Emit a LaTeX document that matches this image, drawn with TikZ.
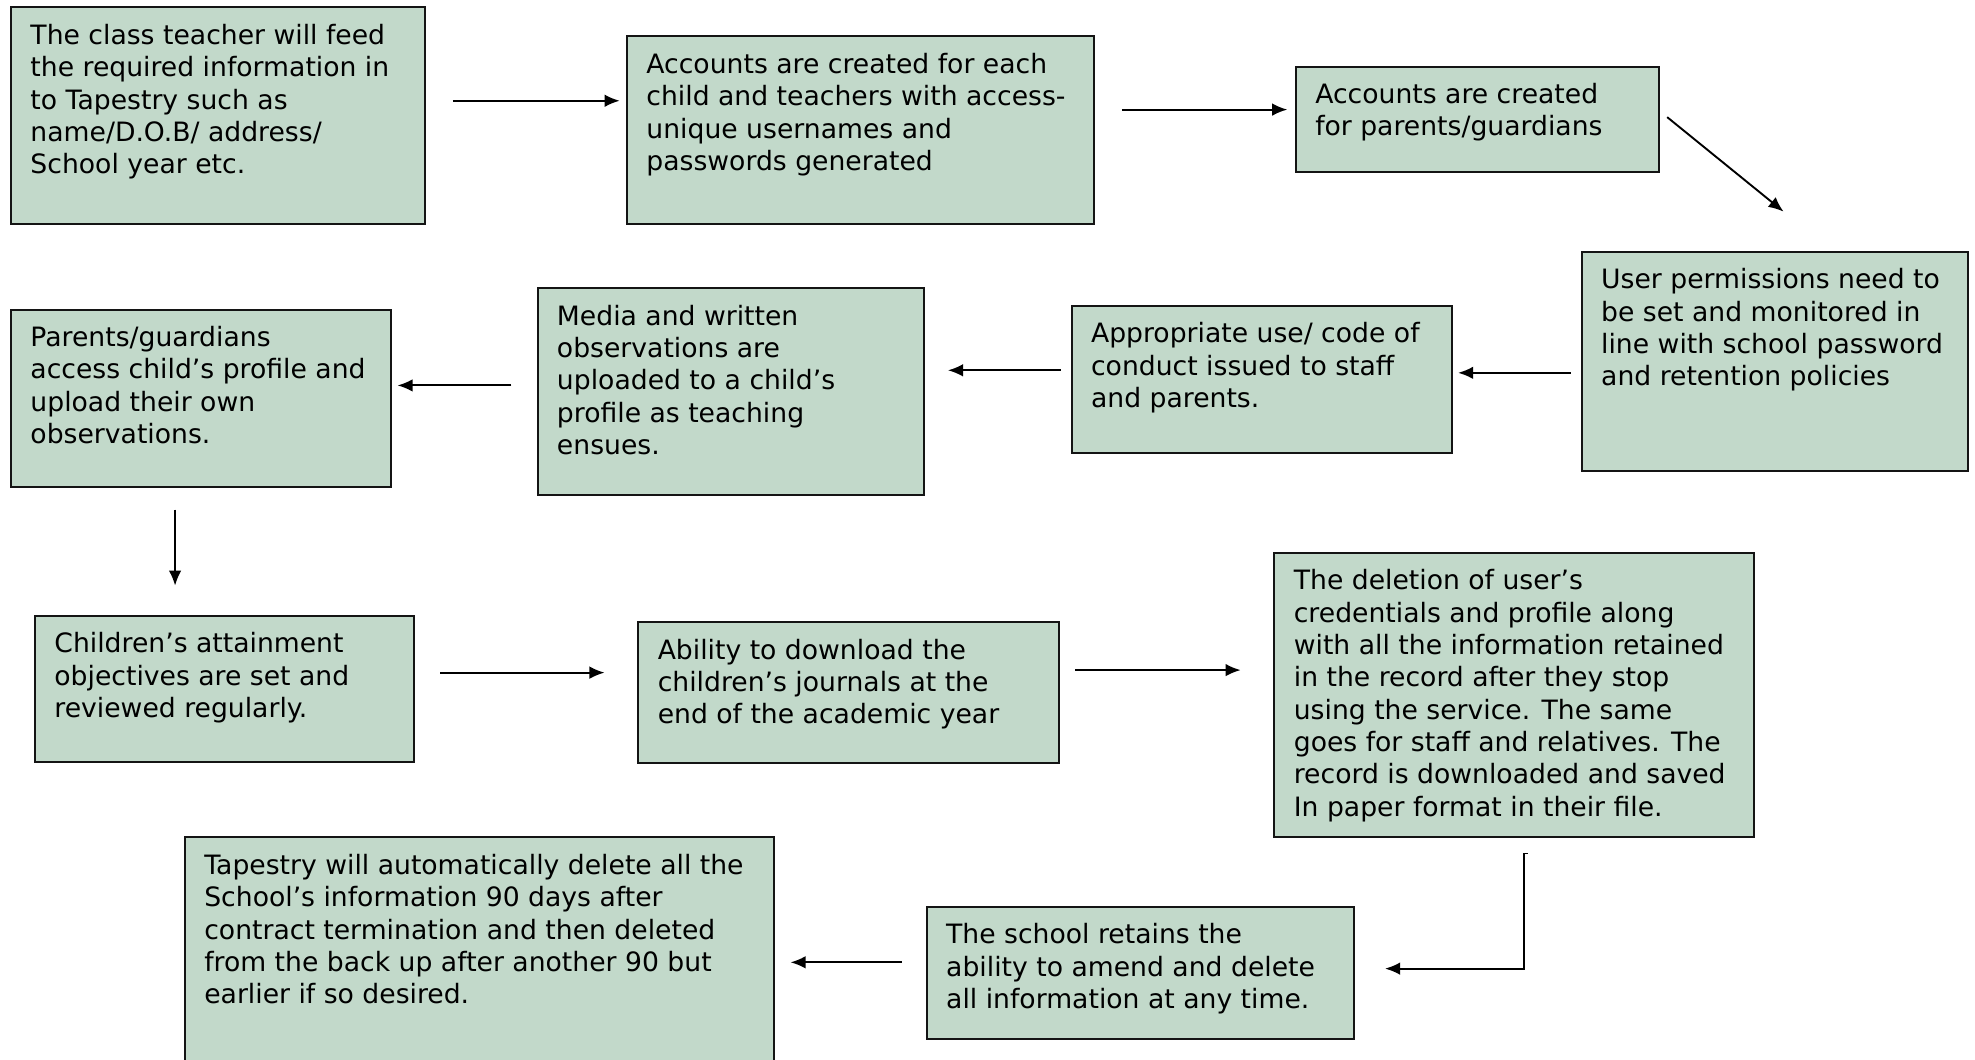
\documentclass[tikz,border=0pt]{standalone}
\usepackage{fontspec}
\setmainfont{DejaVu Sans}
\usetikzlibrary{arrows.meta}
\definecolor{boxfill}{RGB}{194,217,202}
\definecolor{boxline}{RGB}{20,20,20}
\tikzset{
  box/.style={draw=boxline, fill=boxfill, line width=1.6pt, inner sep=0pt, anchor=north west},
  txt/.style={anchor=north west, inner sep=0pt, align=left, text=black,
              font=\fontsize{21.15}{25.7}\selectfont},
  arr/.style={line width=1.5pt, draw=black, -{Latex[length=12pt,width=10pt]}},
}
\newcommand\flowbox[6]{%
  \node[box, minimum width={#4pt-#2pt}, minimum height={#5pt-#3pt}] (#1) at (#2,#3) {};
  \node[txt] (#1t) at ([shift={(16,12)}]#1.north west) {\strut #6};
}
\begin{document}
\begin{tikzpicture}[x=1pt,y=-1pt]
\useasboundingbox (0,0) rectangle (1568,841);

\flowbox{b1}{8}{5}{337}{177}{The class teacher will feed\\the required information in\\to Tapestry such as\\name/D.O.B/ address/\\School year etc.}
\flowbox{b2}{497}{28}{868}{177}{Accounts are created for each\\child and teachers with access-\\unique usernames and\\passwords generated}
\flowbox{b3}{1028}{52}{1316}{136}{Accounts are created\\for parents/guardians}
\flowbox{b4}{1255}{199}{1562}{373}{User permissions need to\\be set and monitored in\\line with school password\\and retention policies}
\flowbox{b5}{850}{242}{1152}{359}{Appropriate use/ code of\\conduct issued to staff\\and parents.}
\flowbox{b6}{426}{228}{733}{392}{Media and written\\observations are\\uploaded to a child’s\\profile as teaching\\ensues.}
\flowbox{b7}{8}{245}{310}{386}{Parents/guardians\\access child’s profile and\\upload their own\\observations.}
\flowbox{b8}{27}{488}{328}{604}{Children’s attainment\\objectives are set and\\reviewed regularly.}
\flowbox{b9}{506}{493}{840}{605}{Ability to download the\\children’s journals at the\\end of the academic year}
\flowbox{b10}{1011}{438}{1392}{664}{The deletion of user’s\\credentials and profile along\\with all the information retained\\in the record after they stop\\using the service. The same\\goes for staff and relatives. The\\record is downloaded and saved\\In paper format in their file.}
\flowbox{b11}{735}{719}{1074}{824}{The school retains the\\ability to amend and delete\\all information at any time.}
\flowbox{b12}{146}{664}{614}{860}{Tapestry will automatically delete all the\\School’s information 90 days after\\contract termination and then deleted\\from the back up after another 90 but\\earlier if so desired.}

\draw[arr] ([shift={(21,75)}]b1.north east) -- ([shift={(-5,52)}]b2.north west);
\draw[arr] ([shift={(21,59)}]b2.north east) -- ([shift={(-6,35)}]b3.north west);
\draw[arr] ([shift={(6,41)}]b3.north east) -- ([shift={(161,-31)}]b4.north west);
\draw[arr] ([shift={(-8,97)}]b4.north west) -- ([shift={(4,54)}]b5.north east);
\draw[arr] ([shift={(-8,52)}]b5.north west) -- ([shift={(18,66)}]b6.north east);
\draw[arr] ([shift={(-20,78)}]b6.north west) -- ([shift={(4,61)}]b7.north east);
\draw[arr] ([shift={(131,17)}]b7.south west) -- ([shift={(112,-23)}]b8.north west);
\draw[arr] ([shift={(20,46)}]b8.north east) -- ([shift={(-26,41)}]b9.north west);
\draw[arr] ([shift={(12,39)}]b9.north east) -- ([shift={(-26,94)}]b10.north west);
\draw[arr] ([shift={(202,12)}]b10.south west) -- ++(-3,0) |- ([shift={(24,50)}]b11.north east);
\draw[arr] ([shift={(-19,45)}]b11.north west) -- ([shift={(12,100)}]b12.north east);
\end{tikzpicture}
\end{document}
